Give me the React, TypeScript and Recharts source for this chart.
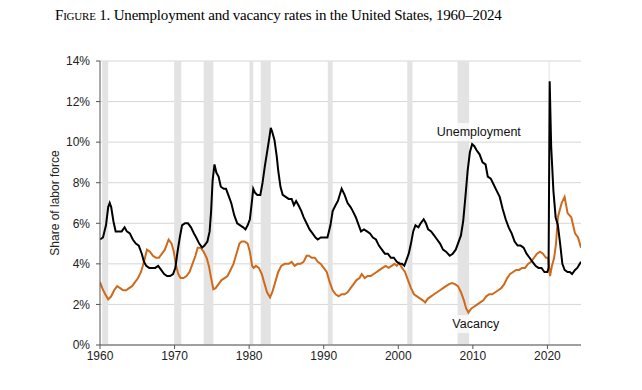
import React from 'react';
import { LineChart, Line, XAxis, YAxis, CartesianGrid, ReferenceArea, ReferenceDot } from 'recharts';

// unemployment rate, % of labor force (smoothed)
const unempYears = [
  1960.0, 1960.4, 1960.8, 1961.1, 1961.3, 1961.5, 1961.8, 1962.1, 1962.5, 1962.9, 1963.3, 1963.6, 1964.0, 1964.4, 1964.8,
  1965.2, 1965.6, 1965.9, 1966.2, 1966.6, 1967.0, 1967.4, 1967.8, 1968.2, 1968.6, 1969.0, 1969.4, 1969.8, 1970.1, 1970.4,
  1970.7, 1971.0, 1971.4, 1971.8, 1972.2, 1972.6, 1972.9, 1973.3, 1973.7, 1974.0, 1974.4, 1974.7, 1974.9, 1975.1, 1975.35,
  1975.6, 1975.9, 1976.2, 1976.6, 1976.9, 1977.2, 1977.6, 1978.0, 1978.4, 1978.8, 1979.2, 1979.5, 1979.8, 1980.1, 1980.35,
  1980.55, 1980.8, 1981.1, 1981.5, 1981.8, 1982.1, 1982.4, 1982.7, 1982.9, 1983.1, 1983.4, 1983.7, 1983.9, 1984.2, 1984.5,
  1984.9, 1985.3, 1985.7, 1986.0, 1986.3, 1986.6, 1987.0, 1987.3, 1987.7, 1988.1, 1988.5, 1988.9, 1989.2, 1989.6, 1990.0,
  1990.5, 1990.9, 1991.2, 1991.6, 1991.9, 1992.4, 1992.8, 1993.2, 1993.6, 1993.9, 1994.3, 1994.7, 1995.0, 1995.4, 1995.8,
  1996.2, 1996.6, 1997.0, 1997.4, 1997.8, 1998.2, 1998.6, 1999.0, 1999.4, 1999.8, 2000.2, 2000.5, 2000.8, 2001.1, 2001.4,
  2001.7, 2002.0, 2002.3, 2002.7, 2003.0, 2003.4, 2003.7, 2004.0, 2004.4, 2004.8, 2005.2, 2005.6, 2006.0, 2006.4, 2006.9,
  2007.3, 2007.7, 2008.0, 2008.4, 2008.7, 2009.0, 2009.3, 2009.6, 2009.9, 2010.2, 2010.5, 2010.9, 2011.3, 2011.7, 2012.0,
  2012.4, 2012.8, 2013.2, 2013.6, 2014.0, 2014.4, 2014.8, 2015.2, 2015.6, 2016.0, 2016.4, 2016.8, 2017.2, 2017.6, 2018.0,
  2018.4, 2018.8, 2019.2, 2019.6, 2020.0, 2020.15, 2020.3, 2020.5, 2020.8, 2021.1, 2021.4, 2021.7, 2022.0, 2022.3, 2022.7,
  2023.0, 2023.3, 2023.7, 2024.0, 2024.5,
];
const unempRates = [
  5.2, 5.3, 5.9, 6.8, 7.0, 6.8, 6.1, 5.6, 5.6, 5.6, 5.8, 5.6, 5.5, 5.2, 5.0,
  4.9, 4.5, 4.1, 3.9, 3.8, 3.8, 3.8, 3.9, 3.7, 3.5, 3.4, 3.4, 3.5, 3.8, 4.6,
  5.3, 5.9, 6.0, 6.0, 5.8, 5.5, 5.3, 5.0, 4.8, 4.9, 5.1, 5.6, 6.6, 8.1, 8.9,
  8.5, 8.3, 7.8, 7.7, 7.7, 7.4, 7.0, 6.4, 6.0, 5.9, 5.8, 5.7, 5.9, 6.2, 7.0,
  7.7, 7.5, 7.4, 7.4, 8.0, 8.8, 9.5, 10.2, 10.7, 10.5, 10.1, 9.3, 8.6, 7.8, 7.4,
  7.3, 7.2, 7.2, 6.9, 7.1, 6.9, 6.6, 6.3, 6.0, 5.7, 5.5, 5.3, 5.2, 5.3, 5.3,
  5.3, 5.9, 6.6, 6.9, 7.1, 7.7, 7.4, 7.0, 6.8, 6.6, 6.3, 5.9, 5.6, 5.7, 5.6,
  5.5, 5.3, 5.2, 4.9, 4.7, 4.5, 4.5, 4.3, 4.3, 4.1, 4.0, 4.0, 3.9, 4.2, 4.5,
  5.0, 5.6, 5.9, 5.8, 6.0, 6.2, 6.0, 5.7, 5.6, 5.4, 5.2, 5.0, 4.7, 4.6, 4.4,
  4.5, 4.7, 5.0, 5.4, 6.1, 7.3, 8.6, 9.5, 9.9, 9.8, 9.6, 9.4, 9.0, 8.9, 8.3,
  8.2, 7.9, 7.6, 7.3, 6.7, 6.2, 5.8, 5.5, 5.1, 4.9, 4.9, 4.8, 4.5, 4.3, 4.1,
  3.9, 3.8, 3.8, 3.6, 3.6, 3.8, 13.0, 9.8, 7.6, 6.3, 5.9, 5.0, 4.0, 3.7, 3.6,
  3.6, 3.5, 3.7, 3.8, 4.1,
];

// vacancy rate, % of labor force
const vacYears = [
  1960.0, 1960.3, 1960.7, 1961.1, 1961.5, 1961.9, 1962.3, 1962.7, 1963.1, 1963.5, 1963.9, 1964.3, 1964.7, 1965.1, 1965.5,
  1965.9, 1966.3, 1966.7, 1967.1, 1967.5, 1967.9, 1968.3, 1968.7, 1969.0, 1969.2, 1969.6, 1969.9, 1970.2, 1970.5, 1970.8,
  1971.2, 1971.6, 1972.0, 1972.4, 1972.8, 1973.1, 1973.5, 1973.9, 1974.3, 1974.6, 1974.9, 1975.2, 1975.5, 1975.9, 1976.3,
  1976.7, 1977.1, 1977.5, 1977.9, 1978.3, 1978.7, 1979.0, 1979.4, 1979.8, 1980.1, 1980.4, 1980.6, 1980.9, 1981.3, 1981.7,
  1982.0, 1982.4, 1982.8, 1983.1, 1983.5, 1983.9, 1984.3, 1984.8, 1985.3, 1985.7, 1986.1, 1986.5, 1986.9, 1987.3, 1987.7,
  1988.0, 1988.4, 1988.8, 1989.2, 1989.6, 1990.0, 1990.4, 1990.8, 1991.2, 1991.6, 1992.0, 1992.4, 1992.8, 1993.2, 1993.6,
  1994.0, 1994.4, 1994.8, 1995.1, 1995.5, 1995.9, 1996.3, 1996.7, 1997.1, 1997.5, 1997.9, 1998.3, 1998.7, 1999.1, 1999.5,
  1999.8, 2000.1, 2000.5, 2000.9, 2001.3, 2001.7, 2002.1, 2002.5, 2002.9, 2003.3, 2003.6, 2004.0, 2004.4, 2004.8, 2005.2,
  2005.6, 2006.0, 2006.4, 2006.8, 2007.2, 2007.6, 2008.0, 2008.4, 2008.8, 2009.1, 2009.4, 2009.8, 2010.2, 2010.6, 2011.0,
  2011.4, 2011.8, 2012.2, 2012.6, 2013.0, 2013.4, 2013.8, 2014.2, 2014.6, 2015.0, 2015.4, 2015.8, 2016.2, 2016.6, 2017.0,
  2017.4, 2017.8, 2018.2, 2018.6, 2019.0, 2019.4, 2019.8, 2020.1, 2020.35, 2020.6, 2020.9, 2021.15, 2021.4, 2021.9, 2022.3,
  2022.7, 2023.2, 2023.7, 2024.1, 2024.5,
];
const vacRates = [
  3.1, 2.8, 2.5, 2.25, 2.4, 2.7, 2.9, 2.8, 2.7, 2.7, 2.8, 2.9, 3.1, 3.3, 3.6,
  4.1, 4.7, 4.6, 4.4, 4.3, 4.3, 4.5, 4.7, 5.0, 5.2, 5.0, 4.6, 3.9, 3.5, 3.3,
  3.3, 3.4, 3.6, 4.0, 4.4, 4.8, 4.8, 4.6, 4.3, 3.9, 3.3, 2.75, 2.8, 3.0, 3.2,
  3.3, 3.4, 3.7, 4.0, 4.5, 5.0, 5.1, 5.1, 5.0, 4.6, 3.9, 3.8, 3.9, 3.8, 3.5,
  3.1, 2.6, 2.35, 2.6, 3.1, 3.6, 3.9, 4.0, 4.0, 4.1, 3.9, 4.0, 4.0, 4.1, 4.4,
  4.4, 4.3, 4.3, 4.1, 4.0, 3.8, 3.6, 3.1, 2.7, 2.5, 2.4, 2.5, 2.5, 2.6, 2.8,
  3.0, 3.2, 3.3, 3.5, 3.3, 3.4, 3.4, 3.5, 3.6, 3.7, 3.8, 3.9, 3.8, 3.9, 4.0,
  3.9, 4.05, 3.8, 3.6, 3.2, 2.8, 2.5, 2.4, 2.3, 2.2, 2.1, 2.3, 2.4, 2.5, 2.6,
  2.7, 2.8, 2.9, 3.0, 3.05, 3.0, 2.9, 2.6, 2.2, 1.8, 1.6, 1.8, 1.9, 2.0, 2.1,
  2.2, 2.4, 2.5, 2.5, 2.6, 2.7, 2.8, 3.0, 3.3, 3.5, 3.6, 3.7, 3.7, 3.8, 3.8,
  4.0, 4.1, 4.3, 4.5, 4.6, 4.5, 4.3, 4.3, 3.4, 3.9, 4.3, 5.0, 6.3, 7.0, 7.3,
  6.5, 6.3, 5.5, 5.3, 4.8,
];

// NBER recessions (start, end)
const recessionStart = [1960.3, 1969.95, 1973.9, 1980.05, 1981.55, 1990.55, 2001.2, 2007.95, 2020.15];
const recessionEnd = [1961.1, 1970.9, 1975.2, 1980.55, 1982.9, 1991.2, 2001.9, 2009.5, 2020.3];

const yTicks = [0, 2, 4, 6, 8, 10, 12, 14];
const xTicks = [1960, 1970, 1980, 1990, 2000, 2010, 2020];

const unempData = unempYears.map((year, i) => ({ year, value: unempRates[i] }));
const vacData = vacYears.map((year, i) => ({ year, value: vacRates[i] }));

const SANS = '"Liberation Sans", Arial, sans-serif';

const NoteLabel = ({ viewBox, text, w }: any) => {
  const cx = viewBox.x + (viewBox.width || 0) / 2;
  const cy = viewBox.y + (viewBox.height || 0) / 2;
  return (
    <g>
      <rect x={cx - w / 2} y={cy - 9} width={w} height={18} fill="#fff" fillOpacity={0.75} />
      <text x={cx} y={cy} textAnchor="middle" dominantBaseline="central" fontSize={12.5} fontFamily={SANS} fill="#111">
        {text}
      </text>
    </g>
  );
};

const App: React.FC = () => {
  return (
    <div style={{ position: 'relative', width: 642, height: 390, background: '#fff' }}>
      <style>{'body{margin:0}'}</style>
      {/* title */}
      <div
        style={{
          position: 'absolute',
          left: 55,
          top: 7,
          fontFamily: '"Liberation Serif", "Times New Roman", serif',
          fontSize: 15,
          letterSpacing: -0.2,
          color: '#000',
          whiteSpace: 'nowrap',
        }}
      >
        <span style={{ fontVariant: 'small-caps' }}>Figure 1.</span> Unemployment and vacancy rates in the United States, 1960–2024
      </div>
      <LineChart width={642} height={390} margin={{ top: 61, right: 61, left: 40, bottom: 15 }}>
        <CartesianGrid vertical={false} stroke="#d6d6d6" />
        {recessionStart.map((s, i) => (
          <ReferenceArea key={s} x1={s} x2={recessionEnd[i]} y1={0} y2={14} fill="#e3e3e3" fillOpacity={1} stroke="none" />
        ))}
        <XAxis
          type="number"
          dataKey="year"
          domain={[1960, 2024.5]}
          ticks={xTicks}
          allowDataOverflow
          height={30}
          tickSize={4}
          tickMargin={2}
          stroke="#555"
          tick={{ fill: '#222', fontSize: 12, fontFamily: SANS }}
        />
        <YAxis
          type="number"
          domain={[0, 14]}
          ticks={yTicks}
          width={60}
          tickSize={4}
          tickMargin={6}
          stroke="#555"
          tickFormatter={(v: number) => `${v}%`}
          tick={{ fill: '#222', fontSize: 12, fontFamily: SANS }}
          label={{
            value: 'Share of labor force',
            angle: -90,
            position: 'insideLeft',
            offset: 15,
            style: { textAnchor: 'middle', fill: '#222', fontSize: 12, fontFamily: SANS },
          }}
        />
        <Line data={vacData} dataKey="value" type="linear" stroke="#cf6a1b" strokeWidth={2} dot={false} isAnimationActive={false} />
        <Line data={unempData} dataKey="value" type="linear" stroke="#000" strokeWidth={2} dot={false} isAnimationActive={false} />
        <ReferenceDot x={2010.8} y={10.5} r={0} fill="none" stroke="none" label={<NoteLabel text="Unemployment" w={90} />} />
        <ReferenceDot x={2010.4} y={1.03} r={0} fill="none" stroke="none" label={<NoteLabel text="Vacancy" w={52} />} />
      </LineChart>
    </div>
  );
};

export default App;
